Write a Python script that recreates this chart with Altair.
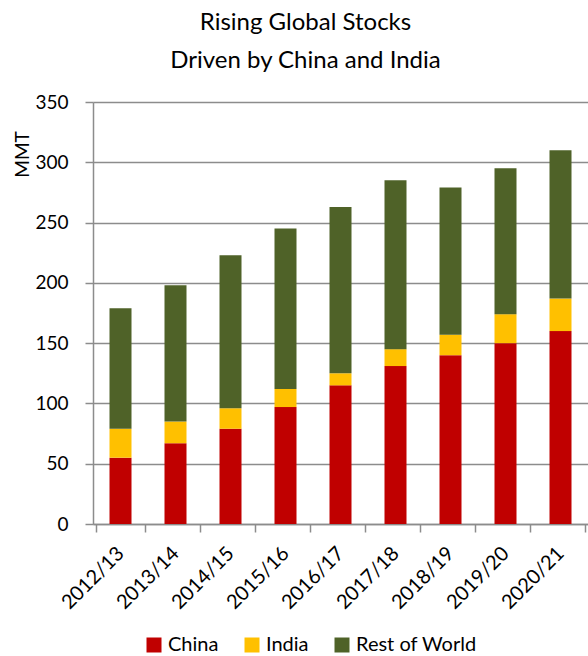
import altair as alt
import pandas as pd

years = ["2012/13", "2013/14", "2014/15", "2015/16", "2016/17", "2017/18", "2018/19", "2019/20", "2020/21"]
china = [55, 67, 79, 97, 115, 131, 140, 150, 160]
india = [24, 18, 17, 15, 10, 14, 17, 24, 27]
rest = [100, 113, 127, 133, 138, 140, 122, 121, 123]
series = ["China", "India", "Rest of World"]
colors = ["#C00000", "#FFC000", "#4F6228"]

rows = []
for i, y in enumerate(years):
    for k, (name, vals) in enumerate(zip(series, [china, india, rest])):
        rows.append({"Year": y, "Series": name, "Value": vals[i], "Order": k})
df = pd.DataFrame(rows)

FONT = "Lato"
GRID = "#8c8c8c"

chart = alt.Chart(df).mark_bar(size=22).encode(
    x=alt.X("Year:N", sort=years, title=None,
            axis=alt.Axis(labelAngle=-45, labelAlign="right", labelBaseline="middle",
                          labelFontSize=20, labelColor="#000000", labelFont=FONT,
                          labelPadding=18, tickBand="extent", tickSize=8,
                          tickColor=GRID, domainColor=GRID, domainWidth=1.5, tickWidth=1.5)),
    y=alt.Y("Value:Q", stack="zero", scale=alt.Scale(domain=[0, 350], nice=False),
            title="MMT",
            axis=alt.Axis(values=[0, 50, 100, 150, 200, 250, 300, 350],
                          labelFontSize=19, labelColor="#000000", labelFont=FONT,
                          labelPadding=17, tickSize=8, tickColor=GRID, tickWidth=1.5,
                          domainColor=GRID, domainWidth=1.5,
                          gridColor=GRID, gridWidth=1.5,
                          titleFontSize=19, titleFont=FONT, titleFontWeight="normal",
                          titleColor="#000000", titleX=-71, titleY=52,
                          titleAlign="center", titleBaseline="middle", titleAngle=-90)),
    color=alt.Color("Series:N", sort=series,
                    scale=alt.Scale(domain=series, range=colors),
                    legend=alt.Legend(orient="none", legendX=51, legendY=533,
                                      direction="horizontal", title=None,
                                      symbolType="square", symbolSize=225,
                                      symbolStrokeWidth=0,
                                      labelFontSize=20, labelFont=FONT, labelColor="#000000",
                                      columnPadding=23, labelOffset=4)),
    order=alt.Order("Order:Q"),
).properties(
    width=495, height=422,
    title=alt.TitleParams(["Rising Global Stocks", "Driven by China and India"],
                          fontSize=24, font=FONT, fontWeight="normal", color="#000000",
                          anchor="middle", dx=-35, offset=20, lineHeight=38),
    padding={"left": 93, "top": 102, "right": 0, "bottom": 132},
    autosize=alt.AutoSizeParams(type="none"),
).configure_view(stroke=None).configure_axisX(grid=False)

chart.save("out.html", embed_options={"renderer": "svg", "actions": False})
